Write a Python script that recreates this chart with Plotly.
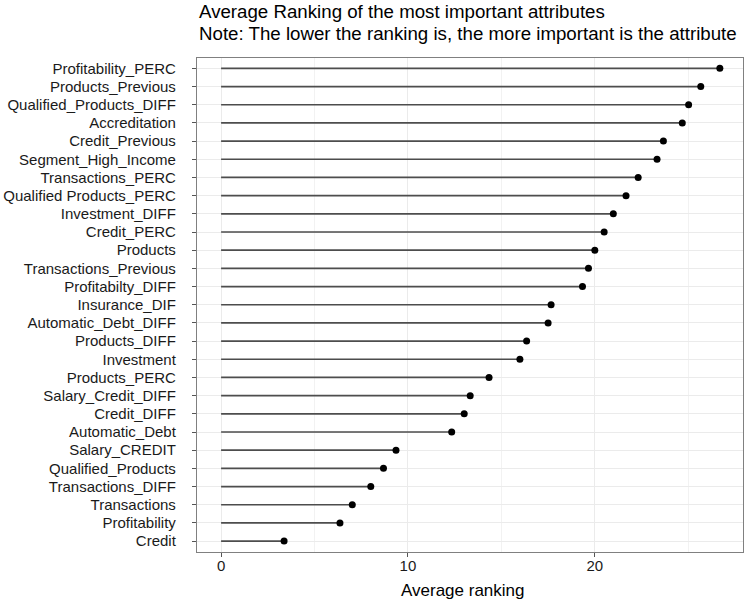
import plotly.graph_objects as go

attributes = [
    "Profitability_PERC", "Products_Previous", "Qualified_Products_DIFF", "Accreditation",
    "Credit_Previous", "Segment_High_Income", "Transactions_PERC", "Qualified Products_PERC",
    "Investment_DIFF", "Credit_PERC", "Products", "Transactions_Previous", "Profitabilty_DIFF",
    "Insurance_DIF", "Automatic_Debt_DIFF", "Products_DIFF", "Investment", "Products_PERC",
    "Salary_Credit_DIFF", "Credit_DIFF", "Automatic_Debt", "Salary_CREDIT", "Qualified_Products",
    "Transactions_DIFF", "Transactions", "Profitability", "Credit",
]
avg_ranking = [
    26.69, 25.67, 25.02, 24.68, 23.67, 23.33, 22.32, 21.67, 20.99, 20.50, 20.00, 19.66, 19.34,
    17.66, 17.50, 16.35, 15.99, 14.34, 13.33, 13.01, 12.34, 9.36, 8.69, 8.01, 7.02, 6.36, 3.37,
]
x_ticks = [0, 10, 20]
title_lines = [
    "Average Ranking of the most important attributes",
    "Note: The lower the ranking is, the more important is the attribute",
]
x_title = "Average ranking"

# bottom-to-top order for the categorical axis
cats = attributes[::-1]
vals = avg_ranking[::-1]

seg_x, seg_y = [], []
for c, v in zip(cats, vals):
    seg_x += [0, v, None]
    seg_y += [c, c, None]

FONT = "Liberation Sans, Arial, sans-serif"
PH = 494  # plot height in px

fig = go.Figure()
fig.add_trace(go.Scatter(x=seg_x, y=seg_y, mode="lines",
                         line=dict(color="#4d4d4d", width=1.7), hoverinfo="skip",
                         showlegend=False))
fig.add_trace(go.Scatter(x=vals, y=cats, mode="markers",
                         marker=dict(color="black", size=7), showlegend=False))

fig.update_layout(
    width=747, height=602,
    margin=dict(l=195, r=3, t=58, b=50),
    paper_bgcolor="white", plot_bgcolor="white",
    font=dict(family=FONT, color="#1a1a1a"),
    annotations=[
        dict(text=title_lines[0], xref="paper", yref="paper", x=0, y=1 + (58 - 11) / PH,
             xanchor="left", yanchor="middle", showarrow=False, font=dict(size=18.7, color="black")),
        dict(text=title_lines[1], xref="paper", yref="paper", x=0, y=1 + (58 - 34) / PH,
             xanchor="left", yanchor="middle", showarrow=False, font=dict(size=18.7, color="black")),
        dict(text=x_title, xref="paper", yref="paper", x=(462 - 195) / 549, y=-(590 - 552) / PH,
             xanchor="center", yanchor="middle", showarrow=False, font=dict(size=17, color="black")),
    ],
)
fig.update_xaxes(
    range=[-1.29, 27.93], tickvals=x_ticks, ticktext=[str(t) for t in x_ticks],
    showgrid=True, gridcolor="#ebebeb", gridwidth=1.2,
    minor=dict(tickvals=[5, 15, 25], showgrid=True, gridcolor="#f2f2f2", gridwidth=0.6),
    zeroline=False, showline=True, mirror=True, linecolor="#808080", linewidth=1.3,
    ticks="outside", ticklen=4, tickcolor="#555555", tickwidth=1,
    tickfont=dict(size=15, color="#1a1a1a"), ticklabelstandoff=-4,
)
fig.update_yaxes(
    categoryorder="array", categoryarray=cats, range=[-0.6, 26.57],
    showgrid=True, gridcolor="#ebebeb", gridwidth=1.2,
    zeroline=False, showline=True, mirror=True, linecolor="#808080", linewidth=1.3,
    ticks="outside", ticklen=4, tickcolor="#555555", tickwidth=1,
    tickfont=dict(size=15, color="#1a1a1a"), ticklabelstandoff=13,
)

fig.write_html("out.html", config={"displayModeBar": False},
               post_script="document.body.style.margin='0';")
